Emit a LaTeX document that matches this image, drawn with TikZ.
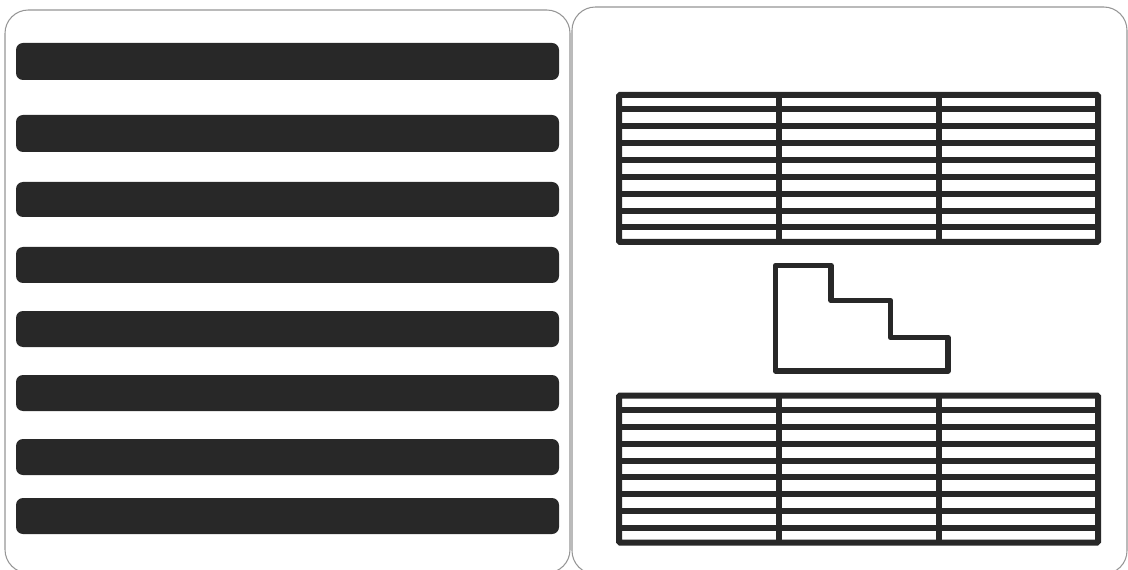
\documentclass[tikz,border=0pt]{standalone}
\usepackage{tikz}
\usetikzlibrary{calc}
\definecolor{barfill}{RGB}{40,40,40}
\definecolor{panelframe}{RGB}{150,150,150}
\tikzset{
  % Panels
  panel/.style     = {draw=panelframe, line width=0.9pt, fill=white, rounded corners=0.7cm},
  % Left bars
  barbox/.style    = {fill=barfill, rounded corners=0.21cm},
  % Slatted grids
  gridline/.style  = {draw=barfill, line width=0.18cm},
  gridframe/.style = {draw=barfill, line width=0.18cm, rounded corners=1pt},
  % Step outline
  stairline/.style = {draw=barfill, line width=0.17cm, line join=round},
}

\begin{document}
\begin{tikzpicture}[x=0.03cm, y=-0.03cm]
  \useasboundingbox (0,0) rectangle (1128,570);
  % Panels
  \draw[panel] (5,10) rectangle (570,573);
  \draw[panel] (572,7) rectangle (1127,574);
  % Bars on the left
  \foreach \ya/\yb in {43/80, 115/152, 182/217, 247/283, 311/347, 375/411, 439/475, 498/534}
    \fill[barbox] (16,\ya) rectangle (559,\yb);
  % Two slatted grids
  \foreach \oy in {0, 300.5} {
    \foreach \k in {0,...,7}
      \draw[gridline] (619,{109.5+\oy+16.85*\k}) -- (1098,{109.5+\oy+16.85*\k});
    \draw[gridline] (779,{95+\oy}) -- (779,{242+\oy});
    \draw[gridline] (938.5,{95+\oy}) -- (938.5,{242+\oy});
    \draw[gridframe] (619,{95+\oy}) rectangle (1098,{242+\oy});
  }
  % Step outline
  \draw[stairline] (775.5,265.5) -- (831,265.5) -- (831,300.5) -- (890.5,300.5)
    -- (890.5,337.5) -- (948,337.5) -- (948,371) -- (775.5,371) -- cycle;
\end{tikzpicture}
\end{document}
